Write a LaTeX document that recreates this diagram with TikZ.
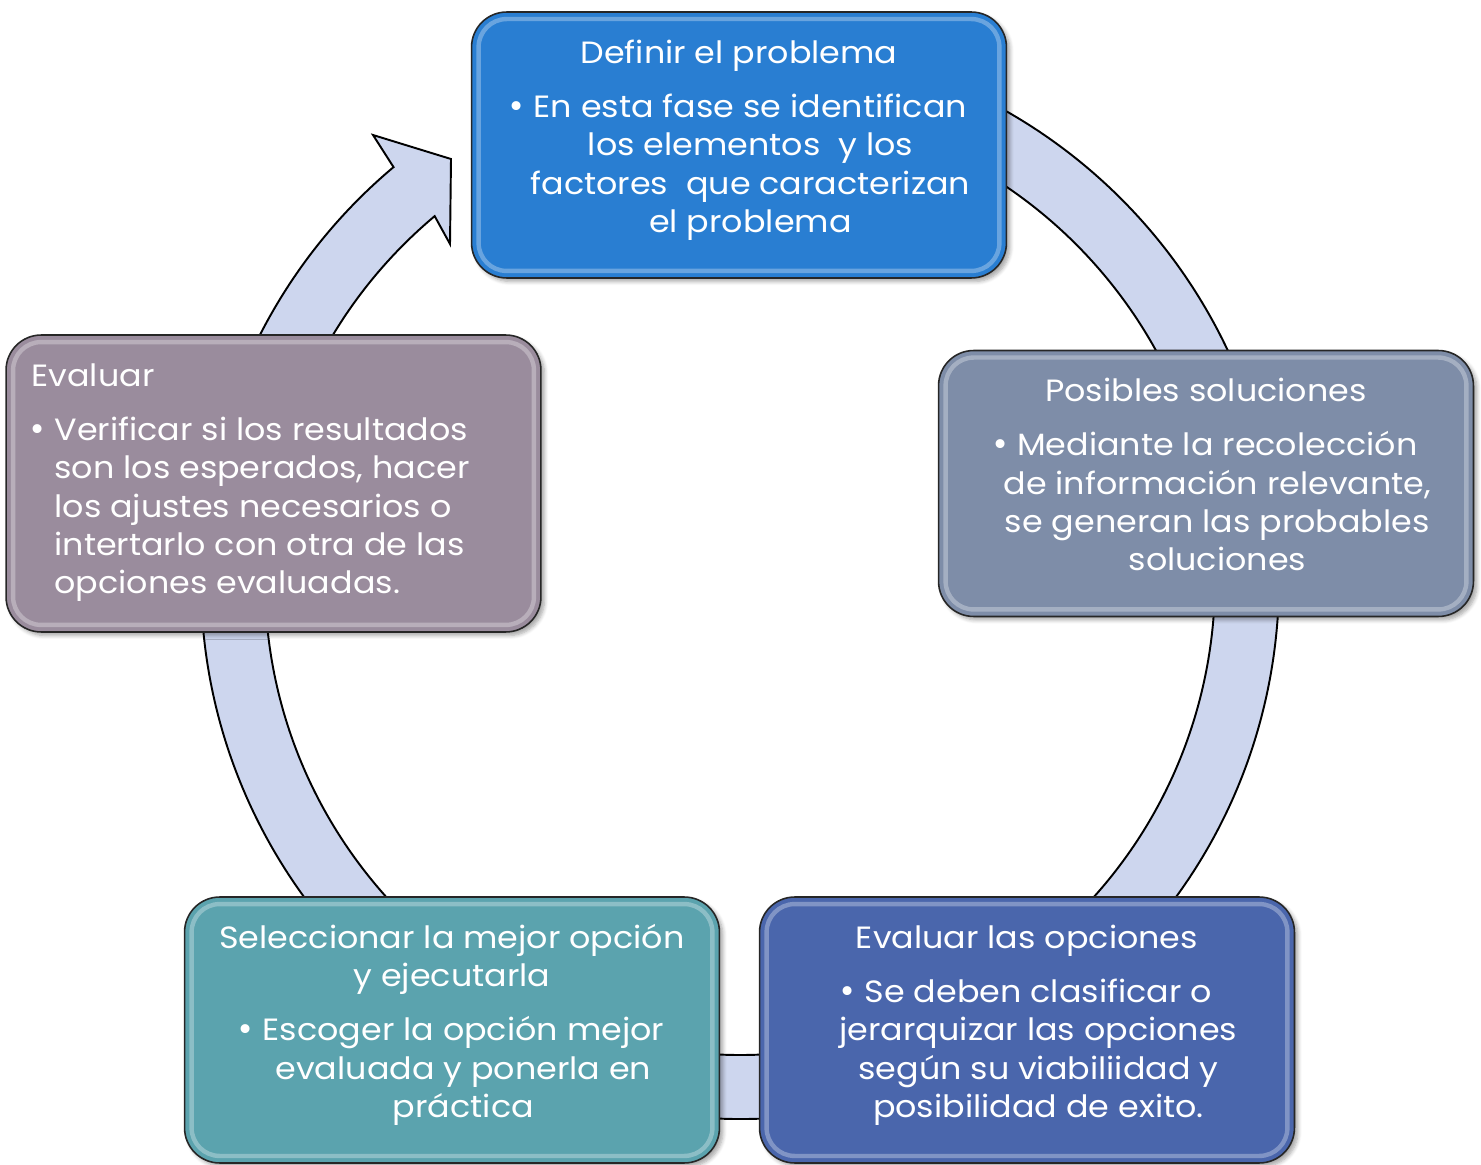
\documentclass[tikz,border=0pt]{standalone}
\usepackage{fontspec}
\setmainfont[FakeStretch=1.085]{Poppins}
\newfontfamily\dejavu{DejaVu Sans}
\usetikzlibrary{positioning,shadows.blur,calc}
\definecolor{azulDef}{RGB}{41,126,210}
\definecolor{grisSol}{RGB}{126,141,168}
\definecolor{azulOpc}{RGB}{74,102,172}
\definecolor{verdeSel}{RGB}{91,163,174}
\definecolor{malvaEva}{RGB}{154,140,157}
\definecolor{anilloCol}{RGB}{205,214,238}
\newcommand{\sangria}{\hspace*{13pt}}
\newcommand{\vineta}{\sangria\llap{{\dejavu •}\hspace{4.5pt}}}

\begin{document}
\begin{tikzpicture}[x=0.02cm,y=-0.02cm,
  caja/.style={rounded corners=20pt,draw=black!85,line width=0.9pt,
    minimum width=10.7cm,minimum height=5.32cm,inner sep=0pt,
    blur shadow={shadow xshift=2pt,shadow yshift=-2pt,shadow blur steps=6,shadow opacity=35},
    path picture={\draw[white,opacity=.3,line width=2.5pt,rounded corners=16pt]
      ([xshift=4pt,yshift=-4pt]path picture bounding box.north west) rectangle
      ([xshift=-4pt,yshift=4pt]path picture bounding box.south east);}},
  texto/.style={text=white,inner sep=0pt,align=center,
    font=\fontsize{17.5}{21.9}\selectfont},
  anillo/.style={fill=anilloCol,draw=black,line width=1.1pt,line join=miter}]
  \useasboundingbox (0,0) rectangle (1481,1165);

  % Flecha circular
  \coordinate (centro) at (740,580);
  \draw[anillo] ($(centro)+(-85:539)$) arc[start angle=-85,end angle=230,radius=539]
    -- (373,135) -- (451,159) -- (450,244) -- ($(centro)+(230:475)$)
    arc[start angle=230,end angle=-85,radius=475] -- cycle;

  % Cajas
  \node[caja,fill=azulDef] (problema) at (739,145) {};
  \node[caja,fill=grisSol] (soluciones) at (1206,483.5) {};
  \node[caja,fill=azulOpc] (opciones) at (1027,1030) {};
  \node[caja,fill=verdeSel] (ejecucion) at (452,1030) {};
  \node[caja,fill=malvaEva,minimum height=5.94cm] (evaluacion) at (273.5,483.5) {};

  % Textos
  \node[texto,below=14pt of problema.north] (problemaT) {\strut Definir el problema\\[8.8pt]
    \vineta En esta fase se identifican\\
    \sangria los elementos\ \ y los\\
    \sangria factores\ \ que caracterizan\\
    \sangria el problema};
  \node[texto,below=14pt of soluciones.north] (solucionesT) {\strut Posibles soluciones\\[8.8pt]
    \vineta Mediante la recolección\\
    \sangria de información relevante,\\
    \sangria se generan las probables\\
    \sangria soluciones};
  \node[texto,below=14pt of opciones.north] (opcionesT) {\strut Evaluar las opciones\\[8.8pt]
    \vineta Se deben clasificar o\\
    \sangria jerarquizar las opciones\\
    \sangria según su viabiliidad y\\
    \sangria posibilidad de exito.};
  \node[texto,below=14pt of ejecucion.north] (ejecucionT) {\strut Seleccionar la mejor opción\\
    y ejecutarla\\[8.8pt]
    \vineta Escoger la opción mejor\\
    \sangria evaluada y ponerla en\\
    \sangria práctica};
  \node[texto,align=left,anchor=north west,below right=14pt and 14.8pt of evaluacion.north west]
    (evaluacionT) {\strut Evaluar\\[8.8pt]
    \vineta Verificar si los resultados\\
    \sangria son los esperados, hacer\\
    \sangria los ajustes necesarios o\\
    \sangria intertarlo con otra de las\\
    \sangria opciones evaluadas.};
\end{tikzpicture}
\end{document}
